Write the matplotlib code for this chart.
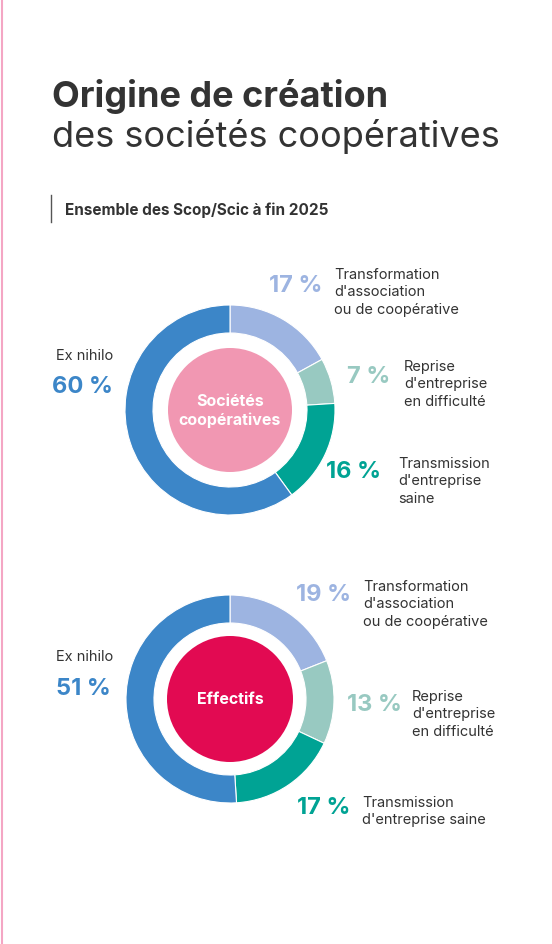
import matplotlib
matplotlib.use("Agg")
import matplotlib.pyplot as plt
from matplotlib.patches import Wedge, Circle

categories = ["Transformation\nd'association\nou de coopérative", "Reprise\nd'entreprise\nen difficulté", "Transmission\nd'entreprise\nsaine", "Ex nihilo"]
societes = [17, 7, 16, 60]
effectifs = [19, 13, 17, 51]
colors = ["#9db4e1", "#98c9c1", "#00a394", "#3c86c8"]

fig = plt.figure(figsize=(5.52, 9.45), dpi=100)
ax = fig.add_axes([0, 0, 1, 1])
ax.set_xlim(0, 552); ax.set_ylim(945, 0); ax.axis("off")
ax.plot([2, 2], [0, 945], color="#f4a6c4", lw=1.5)

F = "Inter"
ax.text(52, 97, "Origine de création", fontsize=26, fontweight="bold", color="#333333", va="center", family=F)
ax.text(52, 137, "des sociétés coopératives", fontsize=26, color="#333333", va="center", family=F)
ax.plot([51, 51], [196, 223], color="#555555", lw=1)
ax.text(65, 210, "Ensemble des Scop/Scic à fin 2025", fontsize=11, fontweight="bold", color="#333333", va="center", family=F)

def donut(cx, cy, R, w, rc, vals, center_color, label):
    start = 90
    for v, c in zip(vals, colors):
        ang = v * 3.6
        ax.add_patch(Wedge((cx, cy), R, -start, -start + ang, width=w, facecolor=c, edgecolor="white", lw=0.8))
        start -= ang
    ax.add_patch(Circle((cx, cy), rc, facecolor=center_color, edgecolor="none"))
    ax.text(cx, cy, label, ha="center", va="center", color="white", fontsize=11.5, fontweight="bold", family=F, linespacing=1.2)

donut(230, 411, 105, 28, 62, societes, "#f197b2", "Sociétés\ncoopératives")
donut(230, 700, 104, 28, 63, effectifs, "#e20a52", "Effectifs")

def lab(xp, yp, pct, color, xt, yt, txt):
    ax.text(xp, yp, f"{pct} %", fontsize=17, fontweight="bold", color=color, va="center", ha="right", family=F)
    ax.text(xt, yt, txt, fontsize=10.5, color="#333333", va="top", family=F, linespacing=1.3)

lab(322, 286, societes[0], colors[0], 334, 268, categories[0])
lab(390, 377, societes[1], colors[1], 404, 360, categories[1])
lab(381, 472, societes[2], colors[2], 398, 457, categories[2])
ax.text(56, 356, "Ex nihilo", fontsize=10.5, color="#333333", va="center", family=F)
ax.text(52, 387, f"{societes[3]} %", fontsize=17, fontweight="bold", color=colors[3], va="center", family=F)

lab(351, 595, effectifs[0], colors[0], 363, 580, categories[0])
lab(402, 705, effectifs[1], colors[1], 412, 690, categories[1])
lab(350, 808, effectifs[2], colors[2], 362, 796, "Transmission\nd'entreprise saine")
ax.text(56, 657, "Ex nihilo", fontsize=10.5, color="#333333", va="center", family=F)
ax.text(56, 689, f"{effectifs[3]} %", fontsize=17, fontweight="bold", color=colors[3], va="center", family=F)

fig.savefig("out.png", dpi=100, facecolor="white")
